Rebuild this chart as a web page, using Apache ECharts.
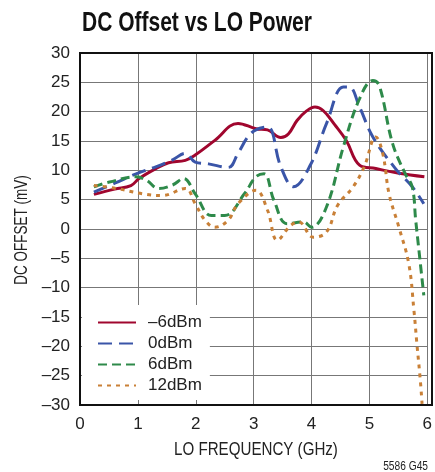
<!DOCTYPE html>
<html>
<head>
<meta charset="utf-8">
<script src="https://cdn.jsdelivr.net/npm/echarts@6/dist/echarts.min.js"></script>
<style>
  html, body { margin: 0; padding: 0; background: #fff; }
  #chart { width: 435px; height: 472px; }
</style>
</head>
<body>
<div id="chart"></div>
<script>
// DC offset (mV) vs LO frequency (GHz), one curve per LO drive level
var seriesNames = ['\u20136dBm', '0dBm', '6dBm', '12dBm'];

var freqNeg6 = [0.24, 0.6, 0.88, 1.02, 1.31, 1.53, 1.82, 1.99, 2.33, 2.73, 3.04, 3.24, 3.47, 3.6, 3.75, 3.9, 4.06, 4.2, 4.4, 4.6, 4.83, 5.11, 5.51, 5.95];
var dcNeg6   = [5.9, 6.8, 7.4, 8.6, 10.3, 11.3, 11.7, 12.6, 15.1, 18.0, 17.1, 16.9, 15.6, 16.2, 18.5, 20.0, 20.8, 20.2, 17.8, 15.1, 10.9, 10.3, 9.5, 8.9];

var freq0 = [0.24, 0.6, 0.97, 1.31, 1.6, 1.82, 1.99, 2.22, 2.56, 2.73, 2.9, 3.04, 3.24, 3.47, 3.69, 3.98, 4.26, 4.55, 4.65, 4.83, 5.06, 5.45, 5.74, 5.94];
var dc0   = [6.3, 7.8, 9.4, 10.6, 11.8, 12.9, 11.4, 11.1, 10.5, 12.9, 15.7, 16.9, 17.4, 10.6, 7.2, 10.9, 18.0, 24.2, 24.2, 20.8, 15.7, 10.3, 7.2, 4.3];

var freq6 = [0.24, 0.51, 0.97, 1.15, 1.36, 1.6, 1.79, 1.99, 2.27, 2.5, 2.84, 3.04, 3.18, 3.35, 3.58, 3.86, 4.0, 4.26, 4.55, 4.83, 5.06, 5.17, 5.4, 5.62, 5.74, 5.8, 5.94];
var dc6   = [7.2, 8.0, 8.9, 8.3, 6.9, 7.5, 8.6, 6.0, 2.3, 2.3, 6.0, 8.9, 9.4, 4.9, 0.9, 1.2, 0.3, 3.8, 14.0, 22.2, 25.3, 24.5, 14.6, 9.4, 7.2, 1.5, -11.3];

var freq12 = [0.24, 0.63, 1.08, 1.42, 1.82, 1.99, 2.16, 2.33, 2.56, 2.73, 3.04, 3.24, 3.41, 3.64, 3.78, 4.03, 4.26, 4.45, 4.72, 4.91, 5.11, 5.23, 5.34, 5.51, 5.68, 5.77, 5.82, 5.88, 5.91];
var dc12   = [7.4, 6.9, 6.0, 5.7, 6.9, 4.3, 1.5, 0.3, 1.5, 4.3, 6.6, 3.2, -1.9, 0.6, 1.2, -1.4, -0.5, 4.0, 7.2, 10.6, 15.7, 12.9, 6.0, 0.3, -5.9, -13.9, -19.5, -25.8, -29.8];

var xTicks = [0, 1, 2, 3, 4, 5, 6];
var yTicks = [-30, -25, -20, -15, -10, -5, 0, 5, 10, 15, 20, 25, 30];

function pairs(xs, ys) {
  return xs.map(function (x, i) { return [x, ys[i]]; });
}

var FONT = '"Liberation Sans", Arial, sans-serif';

function lineSeries(name, xs, ys, color, dash) {
  return {
    name: name,
    type: 'line',
    data: pairs(xs, ys),
    smooth: 0.4,
    symbol: 'none',
    lineStyle: { color: color, width: 3, type: dash, cap: 'butt' },
    itemStyle: { color: color },
    z: 3
  };
}

var chart = echarts.init(document.getElementById('chart'), null, { renderer: 'canvas' });

chart.setOption({
  animation: false,
  backgroundColor: '#fff',
  grid: { left: 80, right: 3, top: 53, bottom: 67 },
  legend: {
    data: seriesNames,
    orient: 'vertical',
    left: 82,
    top: 305,
    padding: [9, 8, 6, 15],
    backgroundColor: '#fff',
    itemWidth: 38,
    itemHeight: 14,
    itemGap: 4,
    // legend keys show the line only, no marker
    itemStyle: { opacity: 0 },
    textStyle: { fontFamily: FONT, fontSize: 17, color: '#222', padding: [0, 0, 0, 7] },
    z: 5
  },
  xAxis: {
    type: 'value',
    min: 0,
    max: 6,
    interval: 1,
    axisLine: { show: true, onZero: false, lineStyle: { color: '#111', width: 2 } },
    axisTick: { show: false },
    axisLabel: {
      fontFamily: FONT, fontSize: 17, color: '#222', margin: 11,
      formatter: function (v) { return xTicks.indexOf(v) >= 0 ? String(v) : ''; }
    },
    splitLine: { show: true, lineStyle: { color: '#777', width: 1 } }
  },
  yAxis: {
    type: 'value',
    min: -30,
    max: 30,
    interval: 5,
    axisLine: { show: true, onZero: false, lineStyle: { color: '#111', width: 2 } },
    axisTick: { show: false },
    axisLabel: {
      fontFamily: FONT, fontSize: 17, color: '#222', margin: 10,
      formatter: function (v) {
        return yTicks.indexOf(v) >= 0 ? String(v).replace('-', '\u2013') : '';
      }
    },
    splitLine: { show: true, lineStyle: { color: '#777', width: 1 } }
  },
  graphic: [
    {
      type: 'rect',
      shape: { x: 80, y: 53, width: 352, height: 352 },
      style: { fill: 'none', stroke: '#111', lineWidth: 2 },
      z: 10,
      silent: true
    },
    {
      // title, set in a condensed bold face
      type: 'text',
      x: 82,
      y: 23,
      scaleX: 0.75,
      style: {
        text: 'DC Offset vs LO Power',
        font: 'bold 28px ' + FONT,
        fill: '#111',
        textAlign: 'left',
        textVerticalAlign: 'middle'
      }
    },
    {
      type: 'text',
      x: 256,
      y: 450,
      scaleX: 0.84,
      style: {
        text: 'LO FREQUENCY (GHz)',
        font: '18px ' + FONT,
        fill: '#222',
        textAlign: 'center',
        textVerticalAlign: 'middle'
      }
    },
    {
      type: 'text',
      x: 22,
      y: 230,
      rotation: Math.PI / 2,
      scaleX: 0.75,
      style: {
        text: 'DC OFFSET (mV)',
        font: '18px ' + FONT,
        fill: '#222',
        textAlign: 'center',
        textVerticalAlign: 'middle'
      }
    },
    {
      type: 'text',
      x: 428,
      y: 467,
      scaleX: 0.85,
      style: {
        text: '5586 G45',
        font: '12px ' + FONT,
        fill: '#222',
        textAlign: 'right',
        textVerticalAlign: 'middle'
      }
    }
  ],
  series: [
    lineSeries(seriesNames[0], freqNeg6, dcNeg6, '#a0062e', 'solid'),
    lineSeries(seriesNames[1], freq0, dc0, '#3a55a8', [14, 7]),
    lineSeries(seriesNames[2], freq6, dc6, '#2e8a4a', [9, 5]),
    lineSeries(seriesNames[3], freq12, dc12, '#c98037', [4, 5])
  ]
});
</script>
</body>
</html>
